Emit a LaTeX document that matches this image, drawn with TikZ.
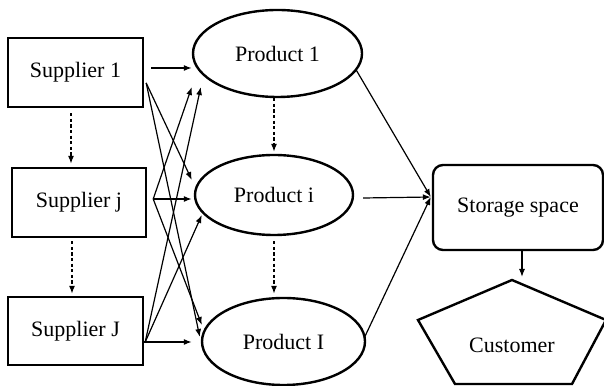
\documentclass[tikz,border=0pt]{standalone}
\usepackage{fontspec}
\setmainfont{Liberation Serif}
\usetikzlibrary{arrows.meta,shapes.geometric}

\begin{document}
\begin{tikzpicture}[x=0.5pt,y=0.5pt,
  lbl/.style={font=\fontsize{11}{13}\selectfont},
  box/.style={draw, lbl, line width=1.2pt, minimum width=67.5pt, minimum height=34.5pt},
  prod/.style={draw, lbl, ellipse, line width=1.2pt},
  arr/.style={-{Latex[length=4pt,width=3pt]}, line width=0.6pt},
  darr/.style={arr, dash pattern=on 1.6pt off 1.2pt}]
\useasboundingbox (0,0) rectangle (604,385);
\node[box] (sup1) at (75.5,312.5){Supplier 1};
\node[box, minimum width=67pt] (supj) at (79,182.5){Supplier j};
\node[box, minimum height=34pt] (supJ) at (75.5,54){Supplier J};
\node[prod, minimum width=84.5pt, minimum height=43.5pt] (prod1) at (277.5,331.5){Product 1};
\node[prod, minimum width=79pt, minimum height=40pt] (prodi) at (274,190){Product i};
\node[prod, minimum width=81.5pt, minimum height=43.5pt] (prodI) at (283.5,43.5){Product I};
\node[draw, lbl, rounded corners=5pt, line width=1.2pt, minimum width=85pt, minimum height=42.5pt] (store) at (518,177.5){Storage space};
\draw[line width=1.2pt] (512,105) coordinate (custtop) -- (418,65) -- (455,1) -- (572,1) -- (606,65) -- cycle;
\node[lbl] (cust) at (512,40){Customer};
% supplier 1
\draw[arr]([shift={(7,4.5)}]sup1.east) -- ([shift={(0,-14.5)}]prod1.west);
\draw[arr]([shift={(2,-10.5)}]sup1.east) -- ([shift={(-2,15)}]prodi.west);
\draw[arr]([shift={(2,-10.5)}]sup1.east) -- ([shift={(-1,4.5)}]prodI.west);
% supplier j
\draw[arr]([shift={(6,3.5)}]supj.east) -- ([shift={(0,-33.5)}]prod1.west);
\draw[arr]([shift={(6,3.5)}]supj.east) -- ([shift={(-2,-4)}]prodi.west);
\draw[arr]([shift={(6,3.5)}]supj.east) -- ([shift={(1,16.5)}]prodI.west);
% supplier J
\draw[arr]([shift={(1,-11)}]supJ.east) -- ([shift={(9,-33.5)}]prod1.west);
\draw[arr]([shift={(1,-11)}]supJ.east) -- ([shift={(8,-20)}]prodi.west);
\draw[arr]([shift={(0,-11)}]supJ.east) -- ([shift={(-9,-0.5)}]prodI.west);
% products to storage
\draw[arr]([shift={(-7,-16.5)}]prod1.east) -- ([shift={(-1,10.5)}]store.west);
\draw[arr]([shift={(9,-3)}]prodi.east) -- ([shift={(-1,10.5)}]store.west);
\draw[arr]([shift={(-2,3.5)}]prodI.east) -- ([shift={(-1,10.5)}]store.west);
\draw[arr]([xshift=2pt]store.south) -- ([shift={(10,3)}]custtop);
% dashed
\draw[darr]([shift={(-4.5,-5)}]sup1.south) -- ([shift={(-8,3)}]supj.north);
\draw[darr]([shift={(-7,-3)}]supj.south) -- ([shift={(-3.5,2)}]supJ.north);
\draw[darr]([shift={(-3.5,0)}]prod1.south) -- ([shift={(0,2)}]prodi.north);
\draw[darr]([shift={(0,-5)}]prodi.south) -- ([shift={(-9.5,3)}]prodI.north);
\end{tikzpicture}
\end{document}
